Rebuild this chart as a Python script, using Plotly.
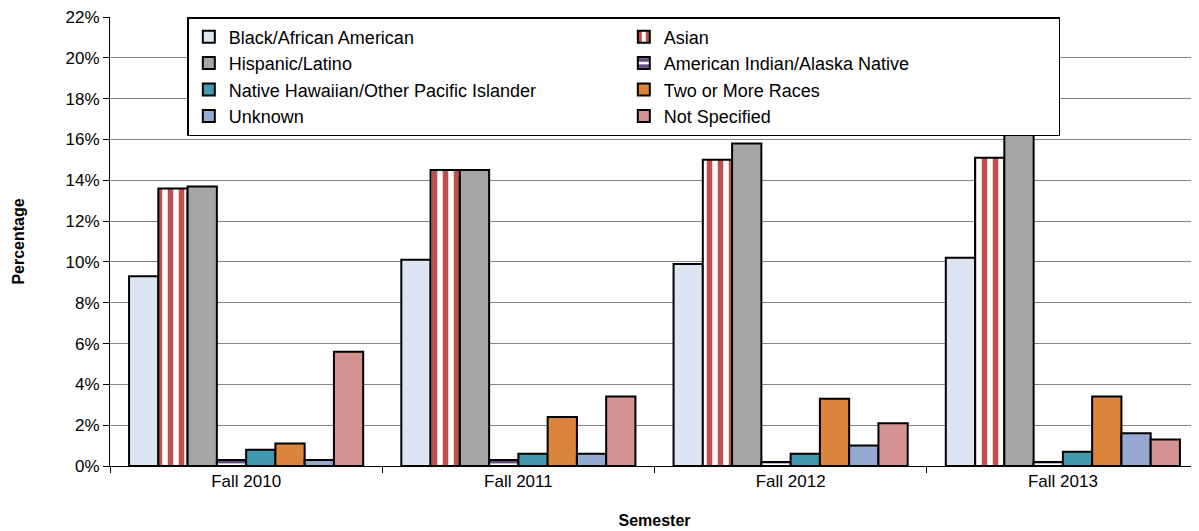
import plotly.graph_objects as go

semesters = ["Fall 2010", "Fall 2011", "Fall 2012", "Fall 2013"]

black_african_american = [9.3, 10.1, 9.9, 10.2]
asian = [13.6, 14.5, 15.0, 15.1]
hispanic_latino = [13.7, 14.5, 15.8, 16.7]
american_indian = [0.3, 0.3, 0.2, 0.2]
native_hawaiian = [0.8, 0.6, 0.6, 0.7]
two_or_more = [1.1, 2.4, 3.3, 3.4]
unknown = [0.3, 0.6, 1.0, 1.6]
not_specified = [5.6, 3.4, 2.1, 1.3]

y_ticks = list(range(0, 23, 2))

series = [
    ("Black/African American", black_african_american, "#DCE6F2", None),
    ("Asian", asian, "#FFFFFF",
     dict(shape="|", fgcolor="#C0504D", bgcolor="#FFFFFF", fgopacity=1, size=11, solidity=0.5)),
    ("Hispanic/Latino", hispanic_latino, "#A6A6A6", None),
    ("American Indian/Alaska Native", american_indian, "#FFFFFF",
     dict(shape="-", fgcolor="#604A7B", bgcolor="#FFFFFF", fgopacity=1, size=8, solidity=0.6)),
    ("Native Hawaiian/Other Pacific Islander", native_hawaiian, "#4198AF", None),
    ("Two or More Races", two_or_more, "#DB843D", None),
    ("Unknown", unknown, "#95A9D3", None),
    ("Not Specified", not_specified, "#D39393", None),
]

fig = go.Figure()
for name, vals, color, pattern in series:
    marker = dict(color=color, line=dict(color="#000000", width=2))
    if pattern:
        marker["pattern"] = pattern
    fig.add_trace(go.Bar(x=semesters, y=vals, name=name, marker=marker))

# page adds an 8px body margin, so the figure is sized to fit inside it
fig.update_layout(
    width=1191,
    height=523,
    barmode="group",
    bargap=0.14,
    bargroupgap=0,
    plot_bgcolor="white",
    paper_bgcolor="white",
    font=dict(family="Liberation Sans, Arial, sans-serif", color="#000000", size=17),
    margin=dict(l=102, r=0, t=9, b=65),
    legend=dict(
        orientation="h",
        x=0.071,
        y=1.0,
        xanchor="left",
        yanchor="top",
        entrywidth=390,
        entrywidthmode="pixels",
        traceorder="normal",
        font=dict(size=18),
        bgcolor="white",
        bordercolor="#000000",
        borderwidth=1.5,
        itemwidth=30,
    ),
)

fig.update_yaxes(
    range=[0, 22],
    tickvals=y_ticks,
    ticktext=[f"{v}%" for v in y_ticks],
    ticklabeloverflow="allow",
    showgrid=True,
    gridcolor="#868686",
    gridwidth=1,
    showline=True,
    linecolor="#000000",
    linewidth=1,
    ticks="outside",
    ticklen=6,
    tickcolor="#000000",
    automargin=False,
    title=dict(text="<b>Percentage</b>", font=dict(size=16), standoff=36),
    zeroline=False,
)
fig.update_xaxes(
    showline=True,
    linecolor="#000000",
    linewidth=1,
    ticks="outside",
    tickson="boundaries",
    ticklen=6,
    tickcolor="#000000",
    automargin=False,
    title=dict(text="<b>Semester</b>", font=dict(size=16), standoff=24),
)

fig.write_html("out.html")
